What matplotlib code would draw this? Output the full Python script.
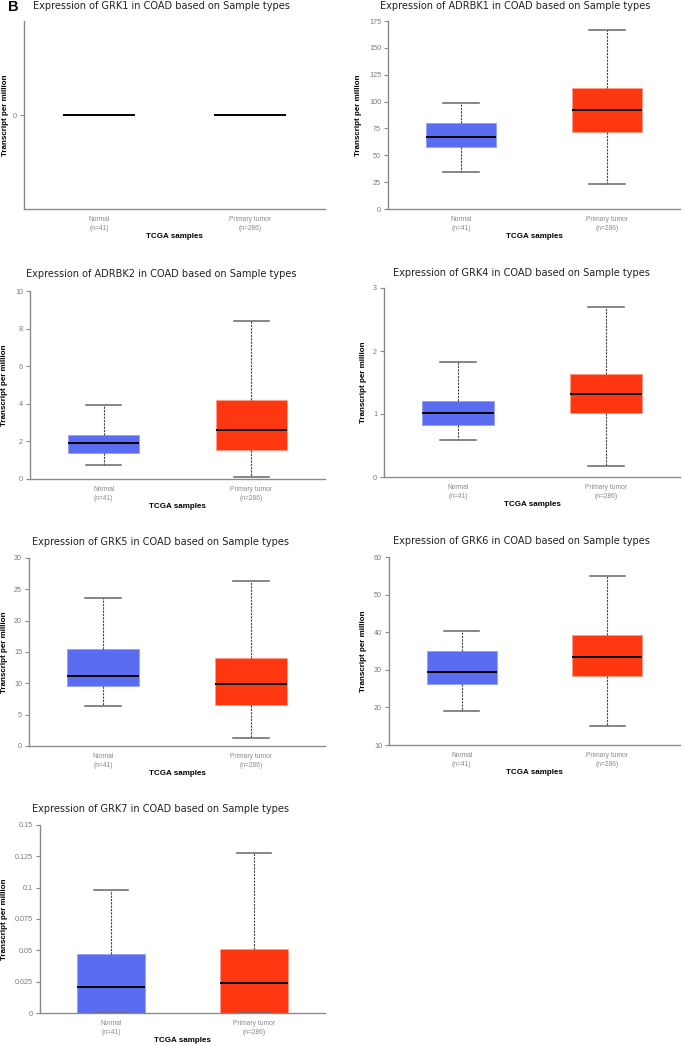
import matplotlib
matplotlib.use("Agg")
import matplotlib.pyplot as plt

W, H = 685, 1046
DPI = 100

genes = ["GRK1", "ADRBK1", "ADRBK2", "GRK4", "GRK5", "GRK6", "GRK7"]
categories = ["Normal\n(n=41)", "Primary tumor\n(n=286)"]

# [whisker low, Q1, median, Q3, whisker high]
normal_stats = [
    [0, 0, 0, 0, 0],
    [34, 58, 67, 80, 99],
    [0.75, 1.38, 1.92, 2.32, 3.95],
    [0.58, 0.83, 1.01, 1.20, 1.83],
    [6.4, 9.5, 11.2, 15.4, 23.6],
    [19.0, 26.2, 29.5, 35.0, 40.4],
    [0.0, 0.0, 0.021, 0.047, 0.098],
]
tumor_stats = [
    [0, 0, 0, 0, 0],
    [23, 72, 92, 113, 167],
    [0.10, 1.52, 2.60, 4.18, 8.42],
    [0.18, 1.01, 1.31, 1.64, 2.70],
    [1.2, 6.5, 9.9, 14.1, 26.3],
    [15.0, 28.4, 33.3, 39.2, 55.0],
    [0.0, 0.0, 0.024, 0.051, 0.128],
]
yticks = [
    [0],
    [0, 25, 50, 75, 100, 125, 150, 175],
    [0, 2, 4, 6, 8, 10],
    [0, 1, 2, 3],
    [0, 5, 10, 15, 20, 25, 30],
    [10, 20, 30, 40, 50, 60],
    [0, 0.025, 0.05, 0.075, 0.1, 0.125, 0.15],
]
ytick_labels = [
    ["0"],
    ["0", "25", "50", "75", "100", "125", "150", "175"],
    ["0", "2", "4", "6", "8", "10"],
    ["0", "1", "2", "3"],
    ["0", "5", "10", "15", "20", "25", "30"],
    ["10", "20", "30", "40", "50", "60"],
    ["0", "0.025", "0.05", "0.075", "0.1", "0.125", "0.15"],
]
ylims = [(-1, 1), (0, 175), (0, 10), (0, 3), (0, 30), (10, 60), (0, 0.15)]

# layout in pixels: (left, top, right, bottom), title centre, ylabel centre x
axes_px = [
    (24, 21, 325, 209),
    (388, 21, 680, 209),
    (30, 291, 325, 479),
    (384, 288, 680, 477),
    (29, 558, 325, 746),
    (389, 557, 680, 745),
    (40, 825, 325, 1013),
]
title_px = [(161, 6), (515, 6), (161, 274), (521, 273), (161, 542), (521, 541), (161, 809)]
ylabel_x = [5, 358, 4, 363, 4, 363, 4]

box_colors = ["#5A6CF0", "#FF3710"]
edge_colors = ["#93A0F6", "#FF9A85"]
spine_col = "#8a8a8a"
tick_col = "#7a7a7a"

fig = plt.figure(figsize=(W / DPI, H / DPI), dpi=DPI)
fig.patch.set_facecolor("white")

for i, g in enumerate(genes):
    l, t, r, b = axes_px[i]
    ax = fig.add_axes([l / W, 1 - b / H, (r - l) / W, (b - t) / H])
    stats = []
    for s, lab in zip((normal_stats[i], tumor_stats[i]), categories):
        stats.append(dict(whislo=s[0], q1=s[1], med=s[2], q3=s[3], whishi=s[4],
                          fliers=[], label=lab))
    bp = ax.bxp(stats, positions=[0, 1], widths=0.48, capwidths=0.24,
                patch_artist=True, showfliers=False,
                medianprops=dict(color="black", linewidth=1.4),
                whiskerprops=dict(color="#444444", linewidth=0.8, linestyle=(0, (2, 1))),
                capprops=dict(color="#666666", linewidth=1.1))
    for patch, fc, ec in zip(bp["boxes"], box_colors, edge_colors):
        patch.set_facecolor(fc)
        patch.set_edgecolor(ec)
        patch.set_linewidth(0.6)
    if i == 0:
        for patch in bp["boxes"]:
            patch.set_visible(False)
        for art in bp["whiskers"] + bp["caps"]:
            art.set_visible(False)
    ax.set_xlim(-0.5, 1.5)
    ax.set_ylim(*ylims[i])
    ax.set_yticks(yticks[i])
    ax.set_yticklabels(ytick_labels[i], fontsize=5.2, color=tick_col,
                       family="Liberation Sans")
    ax.set_xticks([0, 1])
    ax.set_xticklabels(categories, fontsize=4.8, color="#8a8a8a",
                       family="Liberation Sans", linespacing=1.35)
    ax.tick_params(axis="x", length=0, pad=5)
    ax.tick_params(axis="y", length=3, width=0.8, color=spine_col, pad=2)
    for sp in ("top", "right"):
        ax.spines[sp].set_visible(False)
    for sp in ("left", "bottom"):
        ax.spines[sp].set_color(spine_col)
        ax.spines[sp].set_linewidth(1.0)
    ax.set_ylabel("Transcript per million", fontsize=5.8, fontweight="bold",
                  family="Liberation Sans")
    ax.yaxis.set_label_coords((ylabel_x[i] + 4 - l) / (r - l), 0.5)
    ax.set_xlabel("TCGA samples", fontsize=5.8, fontweight="bold",
                  family="Liberation Sans")
    ax.xaxis.set_label_coords(0.5, -24 / (b - t))
    tx, ty = title_px[i]
    fig.text(tx / W, 1 - ty / H, f"Expression of {g} in COAD based on Sample types",
             ha="center", va="center", fontsize=7.0, color="#222222",
             family="DejaVu Sans")

fig.text(8 / W, 1 - 7 / H, "B", ha="left", va="center", fontsize=10.5,
         fontweight="bold", family="Liberation Sans")

fig.savefig("out.png", dpi=DPI, facecolor="white")
